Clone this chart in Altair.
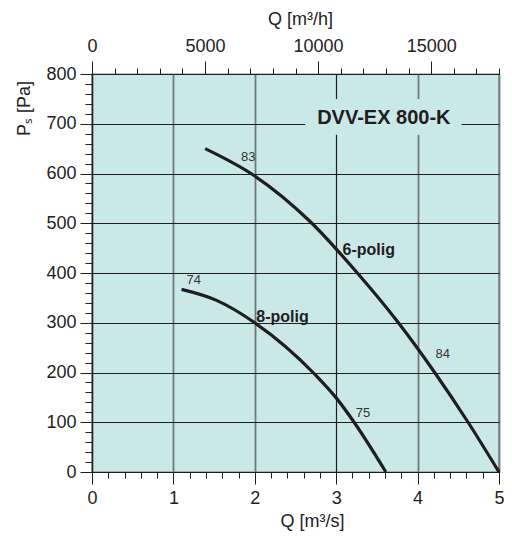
import altair as alt
import pandas as pd

# ---- data ----
q_6polig = [1.39, 2.0, 2.67, 3.26, 3.75, 4.21, 4.62, 5.0]
p_6polig = [650, 595, 505, 400, 303, 200, 100, 0]
q_8polig = [1.10, 1.53, 2.0, 2.74, 3.0, 3.22, 3.61]
p_8polig = [367, 345, 300, 196, 149, 100, 0]

eff_text = ["83", "84", "74", "75"]
eff_q = [1.92, 4.31, 1.25, 3.33]
eff_p = [634, 238, 386, 118]

series_names = ["6-polig", "8-polig"]
series_label_q = [3.40, 2.34]
series_label_p = [446, 312]

chart_title = "DVV-EX 800-K"
title_q = [3.585]
title_p = [711]
box_q = [2.62, 4.54]
box_p = [678, 750]

x_major = [0, 1, 2, 3, 4, 5]
top_major_m3h = [0, 5000, 10000, 15000]
y_major = [0, 100, 200, 300, 400, 500, 600, 700, 800]

# tick positions (major + minor)
x_ticks = [round(i * 0.2, 4) for i in range(0, 26)]
top_ticks = [v / 3600 for v in range(0, 18001, 1000)]
y_ticks = list(range(0, 801, 20))

BG = "#cbe8e8"
INK = "#1e1e1e"
FONT = "Liberation Sans"

curves = pd.DataFrame(
    {"Q": q_6polig + q_8polig,
     "P": p_6polig + p_8polig,
     "s": [series_names[0]] * len(q_6polig) + [series_names[1]] * len(q_8polig)}
)
effs = pd.DataFrame({"Q": eff_q, "P": eff_p, "t": eff_text})
slabs = pd.DataFrame({"Q": series_label_q, "P": series_label_p, "t": series_names})
tdf = pd.DataFrame({"Q": title_q, "P": title_p, "t": [chart_title]})
box = pd.DataFrame({"q0": [box_q[0]], "q1": [box_q[1]], "p0": [box_p[0]], "p1": [box_p[1]]})
topdf = pd.DataFrame({"Q": top_ticks})

xs = alt.Scale(domain=[0, 5], nice=False, zero=False)
ys = alt.Scale(domain=[0, 800], nice=False, zero=False)

X_MAJ = "abs(datum.value - round(datum.value)) < 0.001"
T_MAJ = "abs(datum.value*3600/5000 - round(datum.value*3600/5000)) < 0.001"
Y_MAJ = "datum.value % 100 == 0"

common = dict(labelFont=FONT, labelFontSize=18, labelColor="#222222",
              titleFont=FONT, titleFontSize=18, titleFontWeight="normal",
              titleColor="#222222", domainColor=INK, tickColor=INK,
              tickWidth=1, domainWidth=1.2)

bottom_axis = alt.Axis(
    orient="bottom", values=x_ticks,
    tickSize={"condition": {"test": X_MAJ, "value": 12}, "value": 6},
    labelExpr=f"{X_MAJ} ? format(datum.value, 'd') : ''",
    labelPadding=5, labelFlush=False, labelOverlap=False,
    grid=True,
    gridOpacity={"condition": {"test": X_MAJ, "value": 1}, "value": 0},
    gridColor={"condition": {"test": "datum.value == 3", "value": INK}, "value": "#6f7b7b"},
    gridWidth={"condition": {"test": "datum.value == 3", "value": 1.2}, "value": 1.8},
    title="Q [m³/s]", titleX=220, titleY=49, titleBaseline="middle", titleAlign="center",
    **common)

top_axis = alt.Axis(
    orient="top", values=top_ticks,
    tickSize={"condition": {"test": T_MAJ, "value": 13}, "value": 6},
    labelExpr=f"{T_MAJ} ? format(round(datum.value*3600), 'd') : ''",
    labelPadding=6, labelFlush=False, labelOverlap=False, grid=False,
    title="Q [m³/h]", titleX=208, titleY=-55, titleBaseline="middle", titleAlign="center",
    **common)

left_axis = alt.Axis(
    orient="left", values=y_ticks,
    tickSize={"condition": {"test": Y_MAJ, "value": 12}, "value": 7},
    labelExpr=f"{Y_MAJ} ? format(datum.value, 'd') : ''",
    labelPadding=4, labelFlush=False, labelOverlap=False,
    grid=True,
    gridOpacity={"condition": {"test": Y_MAJ, "value": 1}, "value": 0},
    gridColor=INK, gridWidth=1.2,
    title="Pₛ [Pa]", titleAngle=270, titleX=-63, titleY=34,
    titleAlign="center", titleBaseline="alphabetic",
    **common)

box_layer = alt.Chart(box).mark_rect(fill=BG, strokeWidth=0).encode(
    x=alt.X("q0:Q", scale=xs, axis=None), x2="q1",
    y=alt.Y("p0:Q", scale=ys, axis=None), y2="p1")

curve_layer = alt.Chart(curves).mark_line(
    color=INK, strokeWidth=3.2, interpolate="monotone").encode(
    x=alt.X("Q:Q", scale=xs, axis=bottom_axis),
    y=alt.Y("P:Q", scale=ys, axis=left_axis),
    detail="s:N")

top_layer = alt.Chart(topdf).mark_point(opacity=0).encode(
    x=alt.X("Q:Q", scale=xs, axis=top_axis),
    y=alt.value(0))

eff_layer = alt.Chart(effs).mark_text(
    font=FONT, fontSize=13, color="#333333").encode(
    x=alt.X("Q:Q", scale=xs, axis=None),
    y=alt.Y("P:Q", scale=ys, axis=None), text="t:N")

slab_layer = alt.Chart(slabs).mark_text(
    font=FONT, fontSize=16, fontWeight="bold", color=INK).encode(
    x=alt.X("Q:Q", scale=xs, axis=None),
    y=alt.Y("P:Q", scale=ys, axis=None), text="t:N")

title_layer = alt.Chart(tdf).mark_text(
    font=FONT, fontSize=20, fontWeight="bold", color=INK).encode(
    x=alt.X("Q:Q", scale=xs, axis=None),
    y=alt.Y("P:Q", scale=ys, axis=None), text="t:N")

chart = alt.layer(
    box_layer, curve_layer, top_layer, eff_layer, slab_layer, title_layer
).resolve_axis(x="independent", y="independent").properties(
    width=407, height=398,
    autosize=alt.AutoSizeParams(type="none"),
    padding={"left": 84, "top": 66, "right": 5, "bottom": 61},
).configure_view(fill=BG, stroke=INK, strokeWidth=1.2)

chart.save("out.html", embed_options={"renderer": "svg", "actions": False})
